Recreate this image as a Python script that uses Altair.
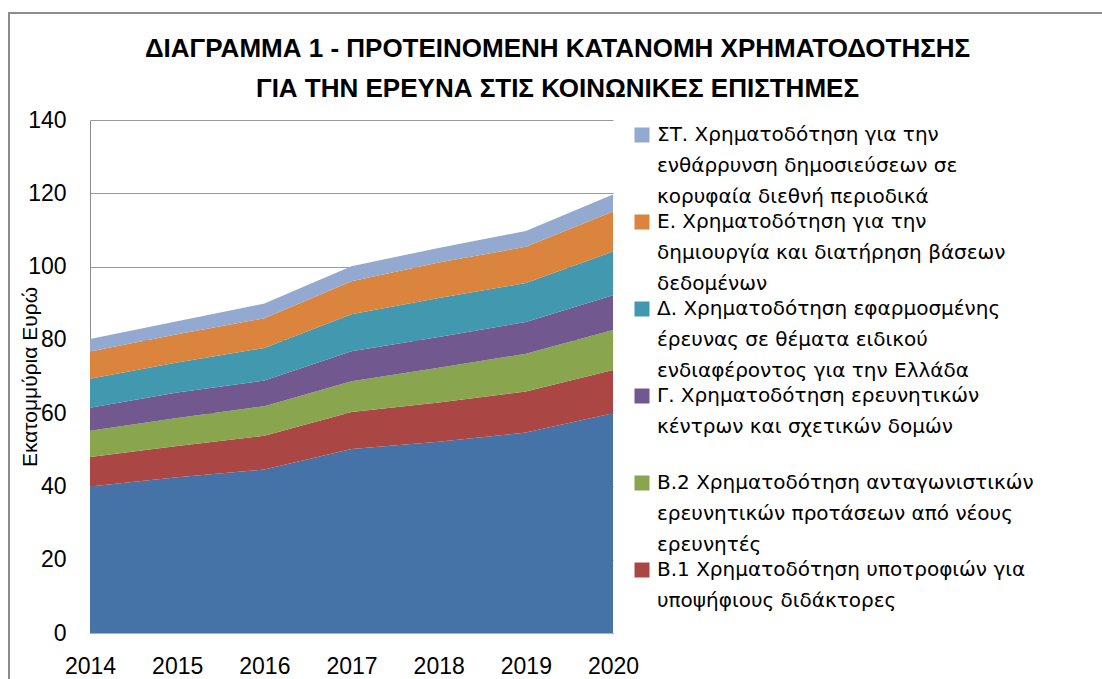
import altair as alt
import pandas as pd

years = [2014, 2015, 2016, 2017, 2018, 2019, 2020]

series_names = [
    "Α.",
    "Β.1 Χρηματοδότηση υποτροφιών για|υποψήφιους διδάκτορες",
    "Β.2 Χρηματοδότηση ανταγωνιστικών|ερευνητικών προτάσεων από νέους|ερευνητές",
    "Γ. Χρηματοδότηση ερευνητικών|κέντρων και σχετικών δομών",
    "Δ. Χρηματοδότηση εφαρμοσμένης|έρευνας σε θέματα ειδικού|ενδιαφέροντος για την Ελλάδα",
    "Ε. Χρηματοδότηση για την|δημιουργία και διατήρηση βάσεων|δεδομένων",
    "ΣΤ. Χρηματοδότηση για την|ενθάρρυνση δημοσιεύσεων σε|κορυφαία διεθνή περιοδικά",
]

vals_A = [40.0, 42.5, 44.6, 50.2, 52.2, 54.7, 60.0]
vals_B1 = [8.0, 8.5, 9.2, 10.1, 10.7, 11.2, 11.8]
vals_B2 = [7.2, 7.7, 8.1, 8.4, 9.5, 10.3, 10.9]
vals_G = [6.3, 6.9, 7.0, 8.2, 8.4, 8.7, 9.5]
vals_D = [7.9, 8.2, 8.9, 10.1, 10.6, 10.6, 11.9]
vals_E = [7.4, 7.7, 8.1, 9.0, 9.7, 9.9, 10.9]
vals_ST = [3.4, 3.6, 4.0, 4.1, 4.0, 4.3, 4.7]

series_values = [vals_A, vals_B1, vals_B2, vals_G, vals_D, vals_E, vals_ST]
colors = ["#4572A7", "#AA4643", "#89A54E", "#71588F", "#4198AF", "#DB843D", "#93A9CF"]

y_ticks = [0, 20, 40, 60, 80, 100, 120, 140]
title_lines = [
    "ΔΙΑΓΡΑΜΜΑ 1 - ΠΡΟΤΕΙΝΟΜΕΝΗ ΚΑΤΑΝΟΜΗ ΧΡΗΜΑΤΟΔΟΤΗΣΗΣ",
    "ΓΙΑ ΤΗΝ ΕΡΕΥΝΑ ΣΤΙΣ ΚΟΙΝΩΝΙΚΕΣ ΕΠΙΣΤΗΜΕΣ",
]
y_title = "Εκατομμύρια Ευρώ"

rows = []
for order, (name, vals) in enumerate(zip(series_names, series_values)):
    for yr, v in zip(years, vals):
        rows.append({"year": yr, "series": name, "value": v, "order": order})
df = pd.DataFrame(rows)

legend_values = list(reversed(series_names[1:]))

W, H = 523, 513
PAD_L, PAD_T = 90, 120

area = alt.Chart(df).mark_area(opacity=1, interpolate="linear").encode(
    x=alt.X("year:Q",
            scale=alt.Scale(domain=[years[0], years[-1]], nice=False, zero=False),
            axis=alt.Axis(values=years, format="d", title=None, grid=False,
                          ticks=False, labelFlush=False, labelFontSize=23,
                          labelFont="Liberation Sans", labelColor="#000",
                          labelPadding=22, domainColor="#b0b0b0")),
    y=alt.Y("value:Q", stack="zero",
            scale=alt.Scale(domain=[0, 140], nice=False),
            axis=alt.Axis(values=y_ticks, title=y_title, ticks=False, tickSize=0,
                          labelFontSize=23, labelFont="Liberation Sans",
                          labelColor="#000", labelPadding=24,
                          domainColor="#8c8c8c", gridColor="#9a9a9a",
                          titleFont="Liberation Sans", titleFontSize=21,
                          titleFontWeight="normal", titleColor="#000",
                          titleX=-60, titleY=H / 2, titleAngle=270,
                          titleBaseline="middle", titleAlign="center")),
    color=alt.Color("series:N",
                    scale=alt.Scale(domain=series_names, range=colors),
                    legend=alt.Legend(orient="none", legendX=542, legendY=5,
                                      values=legend_values, title=None,
                                      labelExpr="split(datum.label, '|')",
                                      labelFont="DejaVu Sans", labelFontSize=20,
                                      labelColor="#000", labelLimit=600,
                                      symbolType="square", symbolSize=225,
                                      symbolStrokeWidth=0, labelOffset=5,
                                      rowPadding=5, gridAlign="all", padding=0)),
    order=alt.Order("order:Q", sort="ascending"),
)

frame = alt.Chart(pd.DataFrame({"f": [0]})).mark_rect(
    fillOpacity=0, stroke="#8c8c8c", strokeWidth=2
).encode(
    x=alt.value(9 - PAD_L), y=alt.value(13 - PAD_T),
    x2=alt.value(1102 - PAD_L + 20), y2=alt.value(679 - PAD_T + 20),
)

chart = alt.layer(frame, area).properties(
    width=W, height=H,
    title=alt.TitleParams(text=title_lines, font="Liberation Sans", fontSize=26,
                          fontWeight="bold", color="#000", lineHeight=40,
                          anchor="middle", frame="group", dx=206, dy=107,
                          offset=17),
    autosize=alt.AutoSizeParams(type="none"),
    padding={"left": PAD_L, "top": PAD_T, "right": 1102 - PAD_L - W,
             "bottom": 679 - PAD_T - H},
).configure(
    style={"guide-label": {"lineHeight": 31}}
).configure_view(stroke=None).configure_axis(labelFontWeight="normal")

chart.save("out.html", embed_options={"renderer": "svg", "actions": False})
